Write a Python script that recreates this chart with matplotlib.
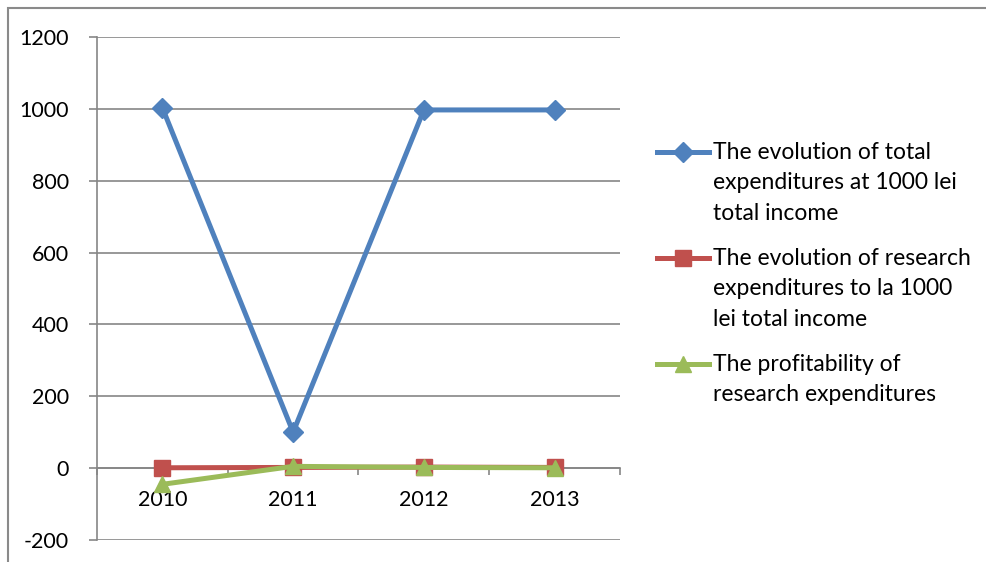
import matplotlib
matplotlib.use("Agg")
import matplotlib.pyplot as plt
from matplotlib.lines import Line2D
from matplotlib.patches import Rectangle

years = ["2010", "2011", "2012", "2013"]
total_exp = [1003, 100, 997, 997]
research_exp = [1, 2, 3, 2]
profitability = [-45, 5, 2, 1]

labels = [
    "The evolution of total\nexpenditures at 1000 lei\ntotal income",
    "The evolution of research\nexpenditures to la 1000\nlei total income",
    "The profitability of\nresearch expenditures",
]
colors = ["#4F81BD", "#C0504D", "#9BBB59"]
markers = ["D", "s", "^"]
sizes = [10, 12, 12]
yticks = [-200, 0, 200, 400, 600, 800, 1000, 1200]

plt.rcParams["font.family"] = ["Lato", "DejaVu Sans"]
grid_col = "#868686"

fig = plt.figure(figsize=(9.87, 5.62), dpi=100)
ax = fig.add_axes([97 / 987, 1 - 540 / 562, 523 / 987, 503 / 562])

x = list(range(len(years)))
series = [total_exp, research_exp, profitability]
for vals, c, m, s in zip(series, colors, markers, sizes):
    ax.plot(x, vals, color=c, lw=3.6, marker=m, ms=s, zorder=3)

ax.set_xlim(-0.5, len(years) - 0.5)
ax.set_ylim(-200, 1200)
ax.set_yticks(yticks)
ax.set_yticklabels([str(v) for v in yticks])
ax.yaxis.grid(True, color=grid_col, lw=1.2)
ax.set_axisbelow(True)

for sp in ["top", "right"]:
    ax.spines[sp].set_visible(False)
ax.spines["left"].set_color(grid_col)
ax.spines["left"].set_linewidth(1.2)
ax.spines["bottom"].set_position(("data", 0))
ax.spines["bottom"].set_color(grid_col)
ax.spines["bottom"].set_linewidth(1.2)

ax.set_xticks([i - 0.5 for i in range(len(years) + 1)])
ax.set_xticklabels([])
ax.set_xticks(x, minor=True)
ax.set_xticklabels(years, minor=True)
ax.tick_params(axis="x", which="major", length=5, color=grid_col, width=1.2)
ax.tick_params(axis="x", which="minor", length=0, pad=16, labelsize=15.5)
ax.tick_params(axis="y", length=6, color=grid_col, width=1.2, labelsize=15.5, pad=14)

# manual legend
y0 = 1 - 152 / 562
gaps = [0, 106 / 562, 212 / 562]
for lab, c, m, s, g in zip(labels, colors, markers, sizes, gaps):
    yy = y0 - g
    fig.add_artist(Line2D([657 / 987, 709 / 987], [yy, yy], color=c, lw=3.6,
                          transform=fig.transFigure))
    fig.add_artist(Line2D([683 / 987], [yy], color=c, marker=m, ms=s,
                          transform=fig.transFigure))
    fig.text(713 / 987, yy + 10 / 562, lab, fontsize=16.5, va="top", ha="left",
             linespacing=1.55)

# outer chart border (partly cropped)
fig.add_artist(Rectangle((8 / 987, -0.1), 1.1, 1.1 - 8 / 562,
                         transform=fig.transFigure, fill=False,
                         edgecolor="#8a8a8a", lw=1.5))

fig.savefig("out.png", dpi=100)
